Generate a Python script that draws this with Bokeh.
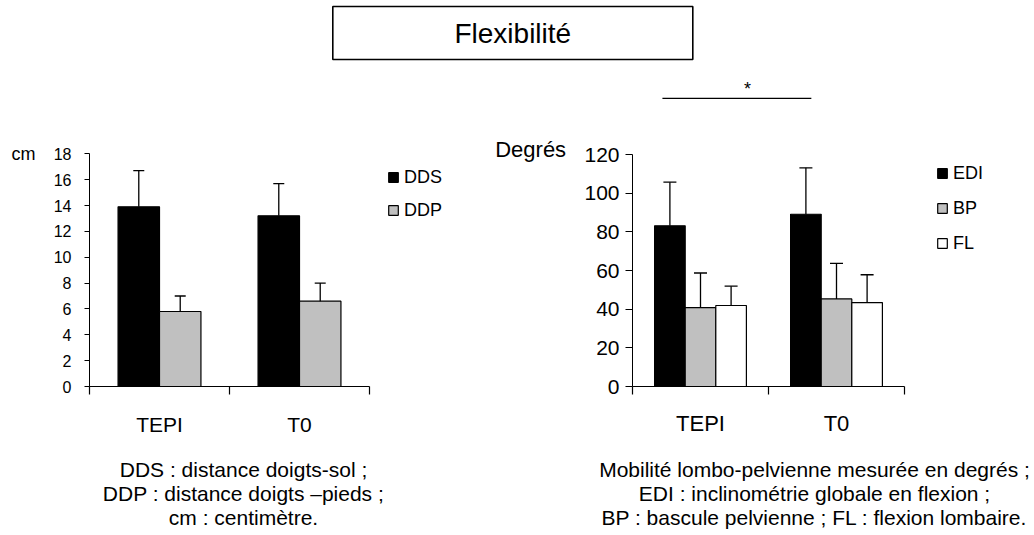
from bokeh.plotting import figure
from bokeh.models import Range1d, FixedTicker, Whisker, TeeHead, ColumnDataSource, Label
from bokeh.layouts import column, row
from bokeh.embed import file_html
from bokeh.resources import INLINE
from bokeh.core.properties import value

FONT = "Liberation Sans"

# ---------------- data ----------------
title_text = "Flexibilité"
categories = ["TEPI", "T0"]

left_series = ["DDS", "DDP"]
dds_mean = [13.9, 13.2]
dds_sd = [2.8, 2.5]
ddp_mean = [5.8, 6.6]
ddp_sd = [1.2, 1.4]
left_ticks = [0, 2, 4, 6, 8, 10, 12, 14, 16, 18]
left_unit = "cm"
left_notes = ["DDS : distance doigts-sol ;",
              "DDP : distance doigts \u2013pieds ;",
              "cm : centimètre."]

right_series = ["EDI", "BP", "FL"]
edi_mean = [83.1, 89.1]
edi_sd = [22.6, 24.0]
bp_mean = [40.8, 45.3]
bp_sd = [17.9, 18.4]
fl_mean = [41.9, 43.4]
fl_sd = [10.0, 14.4]
right_ticks = [0, 20, 40, 60, 80, 100, 120]
right_unit = "Degrés"
right_notes = ["Mobilité lombo-pelvienne mesurée en degrés ;",
               "EDI : inclinométrie globale en flexion ;",
               "BP : bascule pelvienne ; FL : flexion lombaire."]
sig_label = "*"
sig_level = 149          # height of the significance bar (degrees)
sig_series = "EDI"       # compared between the two time points

colors = {"DDS": "black", "DDP": "#C0C0C0", "EDI": "black", "BP": "#C0C0C0", "FL": "white"}


def style_common(p):
    p.grid.visible = False
    p.outline_line_color = None
    p.background_fill_color = "white"
    p.border_fill_color = "white"


def cat_axis(p, cats, font_size, standoff):
    ax = p.xaxis[0]
    centers = [i + 0.5 for i in range(len(cats))]
    edges = list(range(len(cats) + 1))
    ax.ticker = FixedTicker(ticks=centers, minor_ticks=edges)
    ax.major_label_overrides = {c: name for c, name in zip(centers, cats)}
    ax.bounds = (0, len(cats))
    ax.major_tick_in = 0
    ax.major_tick_out = 0
    ax.minor_tick_in = 0
    ax.minor_tick_out = 8
    ax.minor_tick_line_color = "black"
    ax.minor_tick_line_width = 1.2
    ax.axis_line_color = "black"
    ax.axis_line_width = 1.2
    ax.major_label_text_font = FONT
    ax.major_label_text_font_size = f"{font_size}px"
    ax.major_label_text_color = "black"
    ax.major_label_standoff = standoff


def val_axis(p, ticks, font_size, tick_len, standoff):
    ax = p.yaxis[0]
    ax.ticker = FixedTicker(ticks=ticks, minor_ticks=[])
    ax.bounds = (ticks[0], ticks[-1])
    ax.major_tick_in = 0
    ax.major_tick_out = tick_len
    ax.major_tick_line_color = "black"
    ax.major_tick_line_width = 1
    ax.minor_tick_out = 0
    ax.minor_tick_in = 0
    ax.axis_line_color = "black"
    ax.axis_line_width = 1
    ax.major_label_text_font = FONT
    ax.major_label_text_font_size = f"{font_size}px"
    ax.major_label_text_color = "black"
    ax.major_label_standoff = standoff


def draw_bars(p, series, means, sds, bar_w, tee):
    n = len(series)
    centers = {}
    for k, name in enumerate(series):
        off = (k - (n - 1) / 2) * bar_w
        xs = [i + 0.5 + off for i in range(len(categories))]
        centers[name] = xs
        src = ColumnDataSource(dict(
            x=xs, top=means[k],
            lower=means[k],
            upper=[m + s for m, s in zip(means[k], sds[k])]))
        p.vbar(x="x", top="top", bottom=0, width=bar_w, source=src,
               fill_color=colors[name], line_color="black", line_width=1.2,
               legend_label=name)
        p.add_layout(Whisker(source=src, base="x", upper="upper", lower="lower",
                             dimension="height", lower_head=None,
                             upper_head=TeeHead(size=tee, line_color="black", line_width=1.3),
                             line_color="black", line_width=1.3, level="overlay"))
    return centers


def style_legend(p, loc, spacing, font_size):
    lg = p.legend[0]
    lg.location = loc
    lg.border_line_color = None
    lg.background_fill_alpha = 0
    lg.padding = 0
    lg.margin = 0
    lg.glyph_width = 12
    lg.glyph_height = 12
    lg.label_height = 22
    lg.spacing = spacing
    lg.label_standoff = 5
    lg.label_text_font = FONT
    lg.label_text_font_size = f"{font_size}px"
    lg.label_text_color = "black"


def add_notes(p, notes, x, first_px, step_px, ppu, size):
    for j, line in enumerate(notes):
        p.add_layout(Label(x=x, y=-(first_px + step_px * j) / ppu, text=line,
                           text_font=FONT, text_font_size=size, text_color="black",
                           text_align="center", text_baseline="middle"), "below")


# ---------------- layout constants (pixels) ----------------
TOTAL_W = 1034
TITLE_H = 70
CHART_H = 464
FRAME_TOP = 2            # frame top inside chart figures
FRAME_BOTTOM = 316       # zero line inside chart figures
BOTTOM_BORDER = CHART_H - FRAME_BOTTOM
FRAME_H = FRAME_BOTTOM - FRAME_TOP
NOTE_FIRST, NOTE_STEP, NOTE_SIZE = 83, 24, "21px"

# ---------------- title ----------------
tfig = figure(width=TOTAL_W, height=TITLE_H, x_range=Range1d(0, TOTAL_W), y_range=Range1d(0, TITLE_H),
              x_axis_location=None, y_axis_location=None, min_border=0,
              toolbar_location=None, output_backend="svg")
style_common(tfig)
tfig.quad(left=[332.3], right=[692.3], top=[TITLE_H - 6], bottom=[TITLE_H - 59],
          fill_color="white", line_color="black", line_width=1.6)
tfig.text(x=[512.3], y=[TITLE_H - 33], text=[title_text], text_font=value(FONT),
          text_font_size="28px", text_align="center", text_baseline="middle",
          text_color="black")

# ---------------- left chart ----------------
LW = 482
L_left = 89
L_cat_px = 140.0
L_ppu = 232.7 / left_ticks[-1]

pl = figure(width=LW, height=CHART_H,
            x_range=Range1d(0, (LW - L_left) / L_cat_px),
            y_range=Range1d(0, FRAME_H / L_ppu),
            min_border_left=L_left, min_border_right=0,
            min_border_top=FRAME_TOP, min_border_bottom=BOTTOM_BORDER,
            toolbar_location=None, output_backend="svg")
style_common(pl)
draw_bars(pl, left_series, [dds_mean, ddp_mean], [dds_sd, ddp_sd], 0.296, 11)
cat_axis(pl, categories, 21, 18)
val_axis(pl, left_ticks, 16, 5, 13)
style_legend(pl, (298, 165), 11, 18)

pl.add_layout(Label(x=-78 / L_cat_px, y=left_ticks[-1], text=left_unit,
                    text_font=FONT, text_font_size="18px", text_color="black",
                    text_align="left", text_baseline="middle"), "left")
add_notes(pl, left_notes, (243 - L_left) / L_cat_px, NOTE_FIRST, NOTE_STEP, L_ppu, NOTE_SIZE)

# ---------------- right chart ----------------
RW = TOTAL_W - LW
R_left = 150
R_cat_px = 136.0
R_ppu = 232.0 / right_ticks[-1]

pr = figure(width=RW, height=CHART_H,
            x_range=Range1d(0, (RW - R_left) / R_cat_px),
            y_range=Range1d(0, FRAME_H / R_ppu),
            min_border_left=R_left, min_border_right=0,
            min_border_top=FRAME_TOP, min_border_bottom=BOTTOM_BORDER,
            toolbar_location=None, output_backend="svg")
style_common(pr)
rc = draw_bars(pr, right_series, [edi_mean, bp_mean, fl_mean], [edi_sd, bp_sd, fl_sd], 0.225, 13)
cat_axis(pr, categories, 22, 16)
val_axis(pr, right_ticks, 21, 7, 6)
style_legend(pr, (304, 132), 13, 18)

sx0 = rc[sig_series][0] - 0.055
sx1 = rc[sig_series][1] + 0.04
pr.line(x=[sx0, sx1], y=[sig_level, sig_level], line_color="black", line_width=1.2)
pr.text(x=[(sx0 + sx1) / 2 + 0.078], y=[sig_level + 5], text=[sig_label],
        text_font=value(FONT), text_font_size="18px", text_align="center",
        text_baseline="middle", text_color="black")

pr.add_layout(Label(x=-137.3 / R_cat_px, y=right_ticks[-1] + 2.5, text=right_unit,
                    text_font=FONT, text_font_size="22px", text_color="black",
                    text_align="left", text_baseline="middle"), "left")
add_notes(pr, right_notes, (814 - LW - R_left) / R_cat_px, NOTE_FIRST, NOTE_STEP, R_ppu, NOTE_SIZE)

layout = column(tfig, row(pl, pr))
open("out.html", "w").write(file_html(layout, INLINE))
